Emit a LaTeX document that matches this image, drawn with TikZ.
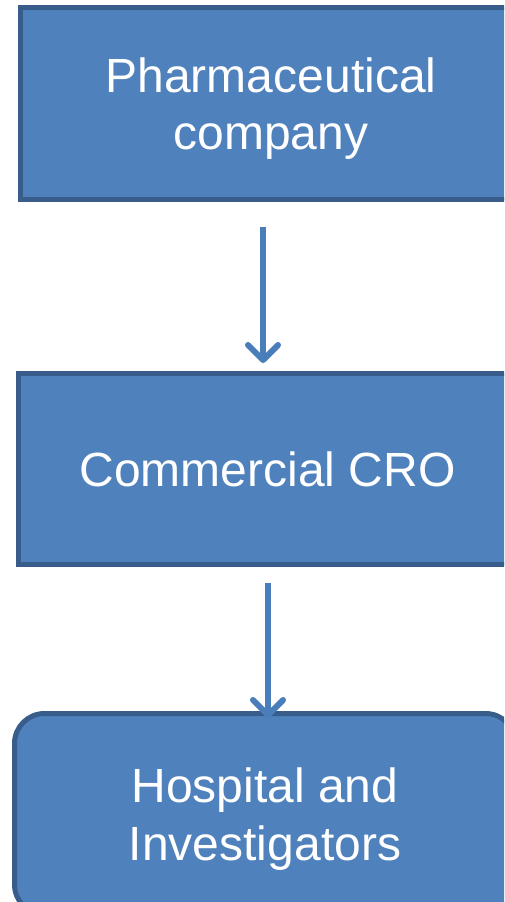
\documentclass[tikz,border=0pt]{standalone}
\usepackage{fontspec}
\setmainfont{Liberation Sans}
\usetikzlibrary{arrows.meta}
\definecolor{boxfill}{HTML}{4F81BD}
\definecolor{boxline}{HTML}{385D8A}
\definecolor{arrowcol}{HTML}{4A7EBB}
\tikzset{
  stage/.style={rectangle, fill=boxfill, draw=boxline, line width=5pt,
    text=white, align=center, text depth=0pt, font=\fontsize{48}{57.6}\selectfont},
  flow/.style={draw=arrowcol, line width=6pt,
    -{Straight Barb[length=15pt, width=30pt, round]}}
}
\begin{document}
\begin{tikzpicture}[x=1pt,y=-1pt]
\useasboundingbox (0,0) rectangle (504,902);
\clip (0,0) rectangle (504,902);
\node [stage, minimum width=501pt, minimum height=192pt] (pharma) at (271,103.5) {Pharmaceutical\\company};
\node [stage, minimum width=498pt, minimum height=191pt] (cro) at (267.5,469) {Commercial CRO};
\node [stage, rounded corners=30pt, minimum width=501pt, minimum height=201pt] (hosp) at (265,814) {Hospital and\\Investigators};
\draw [flow] ([xshift=-8pt,yshift=-25pt]pharma.south) -- ([xshift=-4.5pt,yshift=8pt]cro.north);
\draw [flow] ([xshift=0.5pt,yshift=-16pt]cro.south) -- ([xshift=3pt,yshift=-7pt]hosp.north);
\end{tikzpicture}
\end{document}
